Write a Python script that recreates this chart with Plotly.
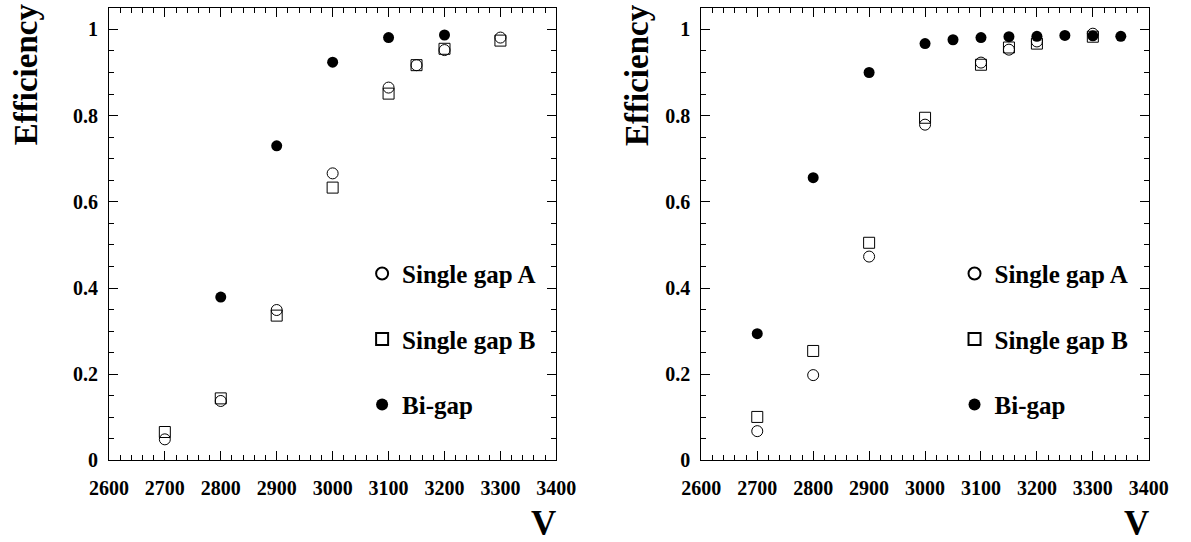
import plotly.graph_objects as go

W, H = 1191, 542

# ---------------- data ----------------
# Left panel
left_A_v = [2700, 2800, 2900, 3000, 3100, 3150, 3200, 3300]
left_A_eff = [0.049, 0.138, 0.349, 0.666, 0.865, 0.917, 0.952, 0.981]
left_B_v = [2700, 2800, 2900, 3000, 3100, 3150, 3200, 3300]
left_B_eff = [0.066, 0.144, 0.336, 0.633, 0.851, 0.917, 0.955, 0.974]
left_bi_v = [2800, 2900, 3000, 3100, 3200]
left_bi_eff = [0.379, 0.730, 0.924, 0.981, 0.987]

# Right panel
right_A_v = [2700, 2800, 2900, 3000, 3100, 3150, 3200, 3300]
right_A_eff = [0.068, 0.198, 0.473, 0.779, 0.923, 0.953, 0.972, 0.990]
right_B_v = [2700, 2800, 2900, 3000, 3100, 3150, 3200, 3300]
right_B_eff = [0.101, 0.254, 0.505, 0.795, 0.918, 0.958, 0.967, 0.983]
right_bi_v = [2700, 2800, 2900, 3000, 3050, 3100, 3150, 3200, 3250, 3300, 3350]
right_bi_eff = [0.294, 0.656, 0.900, 0.967, 0.976, 0.981, 0.983, 0.984, 0.986, 0.985, 0.984]

series_names = ["Single gap A", "Single gap B", "Bi-gap"]
x_ticks = [2600, 2700, 2800, 2900, 3000, 3100, 3200, 3300, 3400]
y_ticks = [0, 0.2, 0.4, 0.6, 0.8, 1]

FONT = "Liberation Serif, Times New Roman, serif"

def px_x(p):
    return p / W

def px_y(p):
    return 1 - p / H

fig = go.Figure()

marker_styles = [
    dict(symbol="circle-open", size=11, color="black", line=dict(width=1, color="black")),
    dict(symbol="square-open", size=11, color="black", line=dict(width=1, color="black")),
    dict(symbol="circle", size=11, color="black", line=dict(width=0, color="black")),
]

panels = [
    ("x", "y", "legend", [(left_A_v, left_A_eff), (left_B_v, left_B_eff), (left_bi_v, left_bi_eff)]),
    ("x2", "y2", "legend2", [(right_A_v, right_A_eff), (right_B_v, right_B_eff), (right_bi_v, right_bi_eff)]),
]

for xa, ya, lg, series in panels:
    for i, (vx, vy) in enumerate(series):
        fig.add_trace(go.Scatter(
            x=vx, y=vy, mode="markers", name=series_names[i],
            marker=marker_styles[i], xaxis=xa, yaxis=ya,
            legend=lg, legendgroup=lg + str(i), showlegend=True,
        ))

axis_common = dict(
    showline=True, linecolor="black", linewidth=1, mirror="ticks",
    ticks="inside", ticklen=9, tickwidth=1, tickcolor="black",
    showgrid=False, zeroline=False,
    tickfont=dict(family=FONT, size=20, color="black", weight="bold"),
)

x_domains = [[92 / W, 555 / W], [705 / W, 1168 / W]]
y_domain = [(H - 470) / H, (H - 8) / H]

for k, (xn, yn) in enumerate([("xaxis", "yaxis"), ("xaxis2", "yaxis2")]):
    fig.layout[xn] = dict(
        axis_common, domain=x_domains[k], range=[2600, 3400],
        tickvals=x_ticks, anchor="y" if k == 0 else "y2",
        ticklabelstandoff=10,
        minor=dict(dtick=20, tick0=2600, ticklen=5, ticks="inside", tickcolor="black", tickwidth=1),
    )
    fig.layout[yn] = dict(
        axis_common, domain=y_domain, range=[0, 1.05],
        tickvals=y_ticks, anchor="x" if k == 0 else "x2",
        ticklabelstandoff=6,
        minor=dict(dtick=0.05, tick0=0, ticklen=5, ticks="inside", tickcolor="black", tickwidth=1),
    )

legend_common = dict(
    font=dict(family=FONT, size=25, color="black", weight="bold"),
    bgcolor="rgba(0,0,0,0)", borderwidth=0, tracegroupgap=30,
    xanchor="left", yanchor="top", itemsizing="constant",
)
fig.update_layout(
    legend=dict(legend_common, x=px_x(354), y=px_y(256)),
    legend2=dict(legend_common, x=px_x(967), y=px_y(256)),
)

annotations = []
for cx, cy in [(7, 76), (639, 77)]:
    annotations.append(dict(
        text="Efficiency", x=px_x(cx), y=px_y(cy), xref="paper", yref="paper",
        xanchor="center", yanchor="middle", textangle=-90, showarrow=False,
        font=dict(family=FONT, size=33, color="black", weight="bold"),
    ))
for rx in [557, 1170]:
    annotations.append(dict(
        text="V", x=px_x(rx), y=px_y(534), xref="paper", yref="paper",
        xanchor="right", yanchor="middle", showarrow=False,
        font=dict(family=FONT, size=35, color="black", weight="bold"),
    ))

fig.update_layout(
    width=W, height=H, margin=dict(l=0, r=0, t=0, b=0),
    paper_bgcolor="white", plot_bgcolor="white",
    annotations=annotations,
)

fig.write_html("out.html", config={"displayModeBar": False})
